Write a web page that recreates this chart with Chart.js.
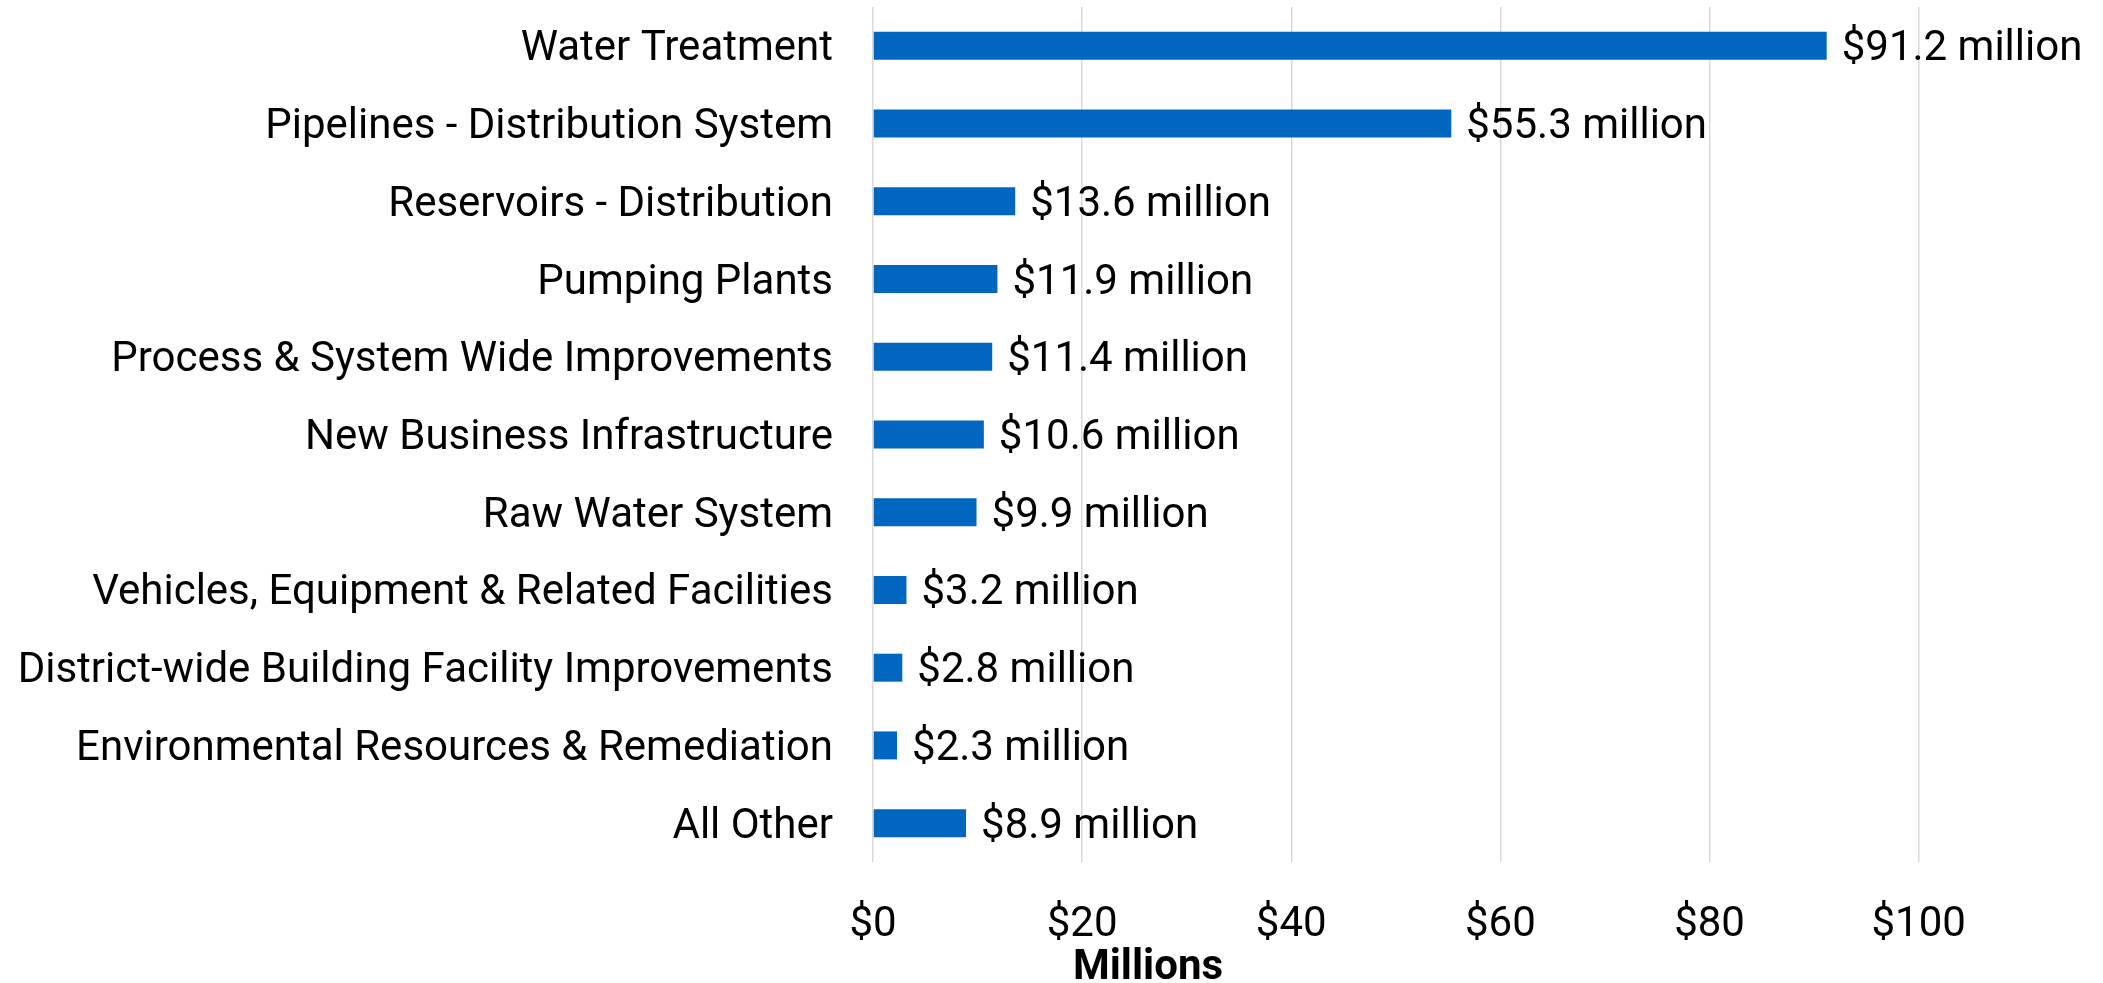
<!DOCTYPE html>
<html>
<head>
<meta charset="utf-8">
<script src="https://cdn.jsdelivr.net/npm/chart.js@4"></script>
<style>
  html, body { margin: 0; padding: 0; background: #fff; }
  #wrap { width: 2103px; height: 983px; }
</style>
</head>
<body>
<div id="wrap"><canvas id="capexChart" width="2103" height="983"></canvas></div>
<script>
// Chart data
const categories = [
  "Water Treatment",
  "Pipelines - Distribution System",
  "Reservoirs - Distribution",
  "Pumping Plants",
  "Process & System Wide Improvements",
  "New Business Infrastructure",
  "Raw Water System",
  "Vehicles, Equipment & Related Facilities",
  "District-wide Building Facility Improvements",
  "Environmental Resources & Remediation",
  "All Other"
];
const spending = [91.2, 55.3, 13.6, 11.9, 11.4, 10.6, 9.9, 3.2, 2.8, 2.3, 8.9];
const axisTitle = "Millions";

const FONT = "Roboto";

// Value labels at bar ends + axis title (sits left of centre in the original)
const valueLabels = {
  id: "valueLabels",
  afterDatasetsDraw(chart) {
    const ctx = chart.ctx;
    const meta = chart.getDatasetMeta(0);
    ctx.save();
    ctx.font = "42px " + FONT;
    ctx.fillStyle = "#000";
    ctx.textAlign = "left";
    ctx.textBaseline = "middle";
    meta.data.forEach((bar, i) => {
      ctx.fillText("$" + spending[i].toFixed(1) + " million", bar.x + 15, bar.y + 4);
    });

    const xScale = chart.scales.x;
    ctx.font = "bold 42px " + FONT;
    ctx.textAlign = "center";
    ctx.fillText(axisTitle, chart.chartArea.left + 275, xScale.bottom - 15);
    ctx.restore();
  }
};

const ctx = document.getElementById("capexChart").getContext("2d");
new Chart(ctx, {
  type: "bar",
  data: {
    labels: categories,
    datasets: [
      {
        data: spending,
        backgroundColor: "#0066BF",
        borderWidth: 0,
        categoryPercentage: 1,
        barPercentage: 0.36
      }
    ]
  },
  options: {
    indexAxis: "y",
    responsive: false,
    animation: false,
    layout: {
      padding: { top: 7, right: 17, left: 0, bottom: 0 }
    },
    plugins: {
      legend: { display: false },
      tooltip: { enabled: false }
    },
    scales: {
      x: {
        min: 0,
        max: 116,
        ticks: {
          stepSize: 20,
          includeBounds: false,
          padding: 38,
          color: "#000",
          font: { family: FONT, size: 42 },
          callback: function (value) {
            return "$" + value;
          }
        },
        grid: {
          color: "#d9d9d9",
          lineWidth: 1.5,
          drawTicks: false
        },
        border: { display: false },
        afterFit: function (scale) {
          scale.height = 121;
        }
      },
      y: {
        ticks: {
          padding: 40,
          labelOffset: 4,
          color: "#000",
          font: { family: FONT, size: 42 }
        },
        grid: { display: false, drawTicks: false },
        border: { display: false },
        afterFit: function (scale) {
          scale.width = 873;
          scale.paddingTop = 0;
          scale.paddingBottom = 0;
        }
      }
    }
  },
  plugins: [valueLabels]
});
</script>
</body>
</html>
